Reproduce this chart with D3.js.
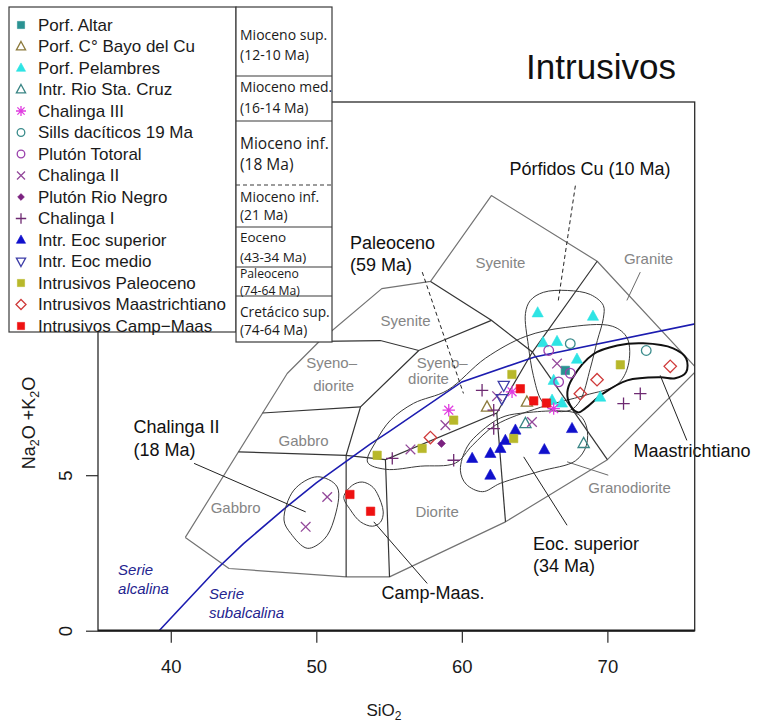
<!DOCTYPE html>
<html>
<head>
<meta charset="utf-8">
<script src="https://cdn.jsdelivr.net/npm/d3@7"></script>
<style>
  body { margin: 0; background: #fff; }
  svg { display: block; }
</style>
</head>
<body>
<svg id="chart" width="758" height="726"></svg>
<script>
// ---------- Data (SiO2 wt%, Na2O+K2O wt%) ----------
const porfAltar       = [[67.11, 8.37]];
const porfBayoCu      = [[61.73, 7.19], [64.47, 7.35]];
const porfPelambres   = [[65.21, 10.22], [69.01, 10.11], [65.58, 9.26], [66.54, 9.30], [67.91, 8.73],
                         [66.31, 8.05], [69.51, 7.51], [66.20, 7.41], [66.88, 7.32]];
const rioStaCruz      = [[64.37, 6.66], [68.37, 6.02]];
const chalingaIII     = [[59.10, 7.09], [63.45, 7.68], [66.31, 7.14]];
const sillsDaciticos  = [[67.45, 9.23], [72.67, 9.01]];
const plutonTotoral   = [[65.97, 9.01], [67.45, 8.28], [66.65, 8.00]];
const chalingaII      = [[50.75, 4.30], [49.27, 3.34], [56.47, 5.83], [58.87, 6.61], [62.42, 7.54],
                         [66.54, 8.59], [64.82, 6.71]];
const plutonRioNegro  = [[58.60, 6.02]];
const chalingaI       = [[55.22, 5.54], [59.44, 5.48], [61.39, 7.73], [62.19, 7.09], [62.19, 6.50],
                         [71.11, 7.30], [72.26, 7.62]];
const eocSuperior     = [[60.71, 5.54], [61.96, 5.70], [61.96, 5.00], [62.65, 5.86], [62.99, 6.12],
                         [63.68, 6.45], [65.67, 5.82], [67.57, 6.50]];
const eocMedio        = [[62.88, 7.89], [62.75, 7.46]];
const paleoceno       = [[54.18, 5.64], [57.27, 5.86], [59.44, 6.77], [63.44, 8.24], [63.56, 6.18], [70.89, 8.55]];
const maastrichtiano  = [[57.84, 6.21], [68.14, 7.62], [69.29, 8.07], [74.32, 8.50]];
const campMaas        = [[52.31, 4.38], [53.73, 3.84], [64.02, 7.78], [64.94, 7.39], [65.81, 7.32]];

// Alkaline / subalkaline divide (Irvine & Baragar, 1971)
const divideSiO2 = [39.2, 40, 43.2, 45, 48, 50, 53.7, 55, 60, 65, 77.4];
const divideAlk  = [0, 0.4, 2, 2.8, 4, 4.75, 6, 6.4, 8, 8.8, 10];

// Plutonic TAS field boundaries
const tasOuter = [[41, 3], [44, 2], [52.05, 1.73], [55.03, 1.73], [63, 3.5], [70, 5.5], [76.2, 8.4],
                  [69.3, 11.88], [62.03, 13.99], [57.85, 11.23], [54.5, 11.0], [50.2, 9.3], [48, 8.27], [41, 3]];
const tasInner = [
  [[44.65, 5.75], [52.05, 5.64], [54.75, 5.5]],
  [[52.05, 1.73], [52.05, 5.64], [53.04, 7.2], [57.04, 9.01]],
  [[55.03, 1.73], [54.75, 5.5], [62.4, 7.0], [64.85, 8.96]],
  [[46.31, 7.0], [53.04, 7.2]],
  [[50.2, 9.3], [54.4, 9.33], [57.04, 9.01], [62.03, 9.98]],
  [[57.85, 11.23], [62.03, 9.98], [64.85, 8.96], [69.3, 11.88]],
  [[63, 3.5], [62.4, 7.0]],
  [[64.85, 8.96], [70, 5.5]]
];
const fieldNames = [
  {t: 'Gabbro', p: [49.13, 6.12]}, {t: 'Gabbro', p: [44.46, 3.94]},
  {t: 'Syeno\u2013', p: [51.05, 8.60]}, {t: 'diorite', p: [51.19, 7.89]},
  {t: 'Syeno\u2013', p: [58.65, 8.60]}, {t: 'diorite', p: [57.71, 8.11]},
  {t: 'Syenite', p: [56.13, 9.98]}, {t: 'Syenite', p: [62.65, 11.84]},
  {t: 'Diorite', p: [58.30, 3.81]}, {t: 'Granodiorite', p: [71.52, 4.61]},
  {t: 'Granite', p: [72.83, 11.97]}
];
const fieldLeaders = [
  [[72.26, 11.53], [71.34, 10.62]],
  [[67.23, 5.43], [70.06, 5.00]]
];

// Group outlines
const enclChalingaII = [[47.78, 3.56], [48.46, 4.52], [50.07, 4.95], [51.44, 4.62], [51.21, 3.56],
                        [50.52, 2.93], [49.38, 2.65], [48.24, 3.13]];
const enclCampMaas = [[51.89, 4.30], [52.49, 4.68], [53.16, 4.78], [53.80, 4.65], [54.19, 4.41], [54.60, 3.82],
                      [54.41, 3.49], [53.86, 3.36], [53.04, 3.50], [52.35, 3.88]];
const enclEocSup = [[59.90, 5.16], [60.36, 5.91], [61.30, 6.40], [62.65, 6.84], [64.02, 6.99], [67.91, 6.98],
                    [68.55, 6.59], [68.55, 5.95], [67.80, 5.46], [65.39, 5.13], [62.65, 4.74], [61.42, 4.47], [60.30, 4.71]];
const enclPorfidos = [[64.37, 10.20], [64.71, 10.62], [65.60, 10.88], [67.25, 10.94], [68.83, 10.81], [69.72, 10.46],
                      [69.72, 10.04], [69.31, 9.33], [68.83, 8.44], [68.14, 7.41], [67.45, 7.09], [66.22, 7.09],
                      [65.46, 7.41], [64.91, 8.21], [64.57, 9.17]];
const enclPaleoceno = [[53.52, 5.42], [54.76, 5.19], [57.16, 5.29], [59.56, 5.39], [60.73, 5.96], [62.31, 6.61],
                       [65.39, 7.18], [68.48, 7.57], [70.68, 7.92], [71.43, 8.53], [71.37, 9.40], [70.34, 9.79],
                       [67.11, 9.75], [64.37, 9.46], [61.62, 8.76], [59.01, 7.73], [56.68, 7.31], [55.10, 6.77], [54.14, 6.12]];
const enclMaastr = [[67.59, 8.11], [69.03, 8.89], [70.68, 9.17], [72.46, 9.24], [74.52, 9.08], [75.41, 8.76],
                    [75.41, 8.31], [74.66, 8.12], [73.63, 8.15], [71.37, 8.05], [69.72, 7.63], [68.48, 7.15],
                    [68.0, 7.02], [67.45, 7.25], [67.25, 7.67]];

// Annotations
const groupLabels = [
  {lines: ['P\u00f3rfidos Cu (10 Ma)'], p: [63.27, 14.85]},
  {lines: ['Paleoceno', '(59 Ma)'], p: [52.31, 12.49]},
  {lines: ['Chalinga II', '(18 Ma)'], p: [37.44, 6.55]},
  {lines: ['Camp-Maas.'], p: [54.48, 1.21]},
  {lines: ['Eoc. superior', '(34 Ma)'], p: [64.89, 2.81]},
  {lines: ['Maastrichtiano'], p: [71.80, 5.80]}
];
const solidLeaders = [
  [[41.60, 5.38], [49.27, 3.82]],
  [[53.95, 3.50], [57.62, 1.52]],
  [[64.25, 5.59], [67.23, 3.39]],
  [[73.63, 8.21], [75.46, 6.12]]
];
const dashedLeaders = [
  [[57.28, 11.53], [60.11, 7.63]],
  [[67.80, 14.31], [66.63, 10.62]]
];
const seriesLabels = [
  {lines: ['Serie', 'alcalina'], p: [36.38, 1.95]},
  {lines: ['Serie', 'subalcalina'], p: [42.63, 1.18]}
];

const xTicks = [40, 50, 60, 70];
const yTicks = [0, 5, 10, 15];

const periodLabels = [
  ['Mioceno sup.', '(12-10 Ma)'],
  ['Mioceno med.', '(16-14 Ma)'],
  ['Mioceno inf.', '(18 Ma)'],
  ['Mioceno inf.', '(21 Ma)'],
  ['Eoceno', '(43-34 Ma)'],
  ['Paleoceno', '(74-64 Ma)'],
  ['Cret\u00e1cico sup.', '(74-64 Ma)']
];

// Series: marker, colour, fill
const series = [
  {name: 'Porf. Altar', data: porfAltar, shape: 'square', color: '#2a9292', filled: true},
  {name: 'Porf. C\u00b0 Bayo del Cu', data: porfBayoCu, shape: 'triUp', color: '#8c7a3c', filled: false},
  {name: 'Porf. Pelambres', data: porfPelambres, shape: 'triUp', color: '#2ee4e4', filled: true},
  {name: 'Intr. Rio Sta. Cruz', data: rioStaCruz, shape: 'triUp', color: '#3a8585', filled: false},
  {name: 'Chalinga III', data: chalingaIII, shape: 'asterisk', color: '#e03ce0', filled: false},
  {name: 'Sills dac\u00edticos 19 Ma', data: sillsDaciticos, shape: 'circle', color: '#3b8c8c', filled: false},
  {name: 'Plut\u00f3n Totoral', data: plutonTotoral, shape: 'circle', color: '#9a40ac', filled: false},
  {name: 'Chalinga II', data: chalingaII, shape: 'cross', color: '#93489a', filled: false},
  {name: 'Plut\u00f3n Rio Negro', data: plutonRioNegro, shape: 'smallDiamond', color: '#7b2280', filled: true},
  {name: 'Chalinga I', data: chalingaI, shape: 'plus', color: '#6e2a72', filled: false},
  {name: 'Intr. Eoc superior', data: eocSuperior, shape: 'triUp', color: '#1010cc', filled: true},
  {name: 'Intr. Eoc medio', data: eocMedio, shape: 'triDown', color: '#3d3da8', filled: false},
  {name: 'Intrusivos Paleoceno', data: paleoceno, shape: 'square', color: '#b8b82a', filled: true},
  {name: 'Intrusivos Maastrichtiano', data: maastrichtiano, shape: 'diamond', color: '#cf3a3a', filled: false},
  {name: 'Intrusivos Camp\u2212Maas', data: campMaas, shape: 'square', color: '#ee1111', filled: true}
];

// ---------- Drawing ----------
const FONT = '"Liberation Sans", Arial, Helvetica, sans-serif';
const svg = d3.select('#chart');
const W = 758, H = 726;
svg.append('rect').attr('width', W).attr('height', H).attr('fill', '#fff');

const plot = {left: 98, right: 694.7, top: 102, bottom: 630.7};
const x = d3.scaleLinear().domain([35, 76]).range([plot.left, plot.right]);
const y = d3.scaleLinear().domain([0, 17]).range([plot.bottom, plot.top]);

svg.append('defs').append('clipPath').attr('id', 'plotClip')
  .append('rect').attr('x', plot.left).attr('y', plot.top)
  .attr('width', plot.right - plot.left).attr('height', plot.bottom - plot.top);

const line = d3.line().x(d => x(d[0])).y(d => y(d[1]));
const closed = d3.line().x(d => x(d[0])).y(d => y(d[1])).curve(d3.curveCatmullRomClosed.alpha(0.5));

const g = svg.append('g').attr('clip-path', 'url(#plotClip)');

// TAS fields
g.append('path').attr('d', line(tasOuter)).attr('fill', 'none')
  .attr('stroke', '#737373').attr('stroke-width', 1.2).attr('stroke-linejoin', 'round');
g.selectAll('path.inner').data(tasInner).join('path').attr('class', 'inner')
  .attr('d', line).attr('fill', 'none').attr('stroke', '#353535').attr('stroke-width', 1.2);
g.selectAll('path.fleader').data(fieldLeaders).join('path').attr('class', 'fleader')
  .attr('d', line).attr('stroke', '#6a6a6a').attr('stroke-width', 1);

// alkaline / subalkaline divide
g.append('path').attr('d', line(divideSiO2.map((s, i) => [s, divideAlk[i]])))
  .attr('fill', 'none').attr('stroke', '#1c1cb0').attr('stroke-width', 1.6);

// group outlines
[enclChalingaII, enclCampMaas, enclEocSup, enclPorfidos, enclPaleoceno].forEach(e => {
  g.append('path').attr('d', closed(e)).attr('fill', 'none').attr('stroke', '#3a3a3a').attr('stroke-width', 1);
});
g.append('path').attr('d', closed(enclMaastr)).attr('fill', 'none').attr('stroke', '#111').attr('stroke-width', 2);

// leaders
svg.selectAll('path.sleader').data(solidLeaders).join('path').attr('class', 'sleader')
  .attr('d', line).attr('stroke', '#222').attr('stroke-width', 1);
svg.selectAll('path.dleader').data(dashedLeaders).join('path').attr('class', 'dleader')
  .attr('d', line).attr('stroke', '#222').attr('stroke-width', 1).attr('stroke-dasharray', '4,3');

// field names
g.selectAll('text.field').data(fieldNames).join('text').attr('class', 'field')
  .attr('x', d => x(d.p[0])).attr('y', d => y(d.p[1])).attr('dy', '0.35em')
  .attr('text-anchor', 'middle').attr('font-family', FONT).attr('font-size', 15)
  .attr('fill', '#858585').text(d => d.t);

// series labels for the divide
seriesLabels.forEach(l => {
  const t = svg.append('text').attr('font-family', FONT).attr('font-size', 15)
    .attr('font-style', 'italic').attr('fill', '#24248f');
  l.lines.forEach((s, i) => t.append('tspan').attr('x', x(l.p[0]))
    .attr('y', y(l.p[1]) + i * 19).attr('dy', '0.35em').text(s));
});

// group labels
groupLabels.forEach(l => {
  const t = svg.append('text').attr('font-family', FONT).attr('font-size', 18).attr('fill', '#111');
  l.lines.forEach((s, i) => t.append('tspan').attr('x', x(l.p[0]))
    .attr('y', y(l.p[1]) + i * 22.5).attr('dy', '0.35em').text(s));
});

// markers
function symbolPath(shape, r) {
  const k = r * 0.72;
  switch (shape) {
    case 'square': return `M${-r},${-r}H${r}V${r}H${-r}Z`;
    case 'triUp': return `M0,${-r * 1.1}L${r},${r * 0.72}L${-r},${r * 0.72}Z`;
    case 'triDown': return `M0,${r * 1.1}L${r},${-r * 0.72}L${-r},${-r * 0.72}Z`;
    case 'diamond':
    case 'smallDiamond': return `M0,${-r}L${r},0L0,${r}L${-r},0Z`;
    case 'circle': return `M${r},0A${r},${r} 0 1,1 ${-r},0A${r},${r} 0 1,1 ${r},0Z`;
    case 'plus': return `M${-r},0H${r}M0,${-r}V${r}`;
    case 'cross': return `M${-r},${-r}L${r},${r}M${-r},${r}L${r},${-r}`;
    case 'asterisk': return `M${-r},0H${r}M0,${-r}V${r}M${-k},${-k}L${k},${k}M${-k},${k}L${k},${-k}`;
  }
}
const plotSize = {square: 4.2, triUp: 5.6, triDown: 5.6, diamond: 6.2, smallDiamond: 4, circle: 4.8,
                  plus: 6.2, cross: 4.8, asterisk: 6.2};
const legendSize = {square: 3.6, triUp: 4.6, triDown: 4.6, diamond: 5, smallDiamond: 3.4, circle: 3.8,
                    plus: 5.2, cross: 4, asterisk: 5};

function styleMarker(sel, sr) {
  sel.attr('fill', sr.filled ? sr.color : 'none')
    .attr('stroke', sr.color)
    .attr('stroke-width', sr.filled ? 0.6 : 1.3);
}

const pts = svg.append('g');
series.forEach(sr => {
  pts.append('g').selectAll('path').data(sr.data).join('path')
    .attr('transform', d => `translate(${x(d[0])},${y(d[1])})`)
    .attr('d', symbolPath(sr.shape, plotSize[sr.shape]))
    .call(styleMarker, sr);
});

// frame and axes
svg.append('rect').attr('x', plot.left).attr('y', plot.top)
  .attr('width', plot.right - plot.left).attr('height', plot.bottom - plot.top)
  .attr('fill', 'none').attr('stroke', '#2a2a2a').attr('stroke-width', 1.3);
svg.append('line').attr('x1', plot.left).attr('x2', plot.right).attr('y1', plot.bottom).attr('y2', plot.bottom)
  .attr('stroke', '#1a1a1a').attr('stroke-width', 2.2);

const xAxis = svg.append('g').attr('transform', `translate(0,${plot.bottom})`)
  .call(d3.axisBottom(x).tickValues(xTicks).tickSize(12).tickPadding(17).tickFormat(d3.format('d')));
xAxis.select('.domain').remove();
xAxis.selectAll('line').attr('stroke', '#2a2a2a').attr('stroke-width', 1.2);
xAxis.selectAll('text').attr('font-family', FONT).attr('font-size', 18.5).attr('fill', '#1a1a1a');

const yAxis = svg.append('g').attr('transform', `translate(${plot.left},0)`)
  .call(d3.axisLeft(y).tickValues(yTicks).tickSize(12).tickFormat(d3.format('d')));
yAxis.select('.domain').remove();
yAxis.selectAll('line').attr('stroke', '#2a2a2a').attr('stroke-width', 1.2);
yAxis.selectAll('text').attr('x', 0).attr('dy', 0).attr('text-anchor', 'middle')
  .attr('transform', 'translate(-26,0) rotate(-90)')
  .attr('font-family', FONT).attr('font-size', 18.5).attr('fill', '#1a1a1a');

// axis titles
const xt = svg.append('text').attr('x', 384).attr('y', 716).attr('text-anchor', 'middle')
  .attr('font-family', FONT).attr('font-size', 17).attr('fill', '#1a1a1a');
xt.append('tspan').text('SiO');
xt.append('tspan').attr('font-size', 12).attr('dy', 4).text('2');

const yt = svg.append('text').attr('transform', 'translate(35,423) rotate(-90)').attr('text-anchor', 'middle')
  .attr('font-family', FONT).attr('font-size', 18).attr('fill', '#1a1a1a');
yt.append('tspan').text('Na');
yt.append('tspan').attr('font-size', 12.5).attr('dy', 4).text('2');
yt.append('tspan').attr('dy', -4).text('O +K');
yt.append('tspan').attr('font-size', 12.5).attr('dy', 4).text('2');
yt.append('tspan').attr('dy', -4).text('O');

// title
svg.append('text').attr('x', 601).attr('y', 79).attr('text-anchor', 'middle')
  .attr('font-family', FONT).attr('font-size', 35).attr('fill', '#111').text('Intrusivos');

// ---------- Legend ----------
const leg = svg.append('g');
leg.append('rect').attr('x', 9).attr('y', 7).attr('width', 227).attr('height', 325)
  .attr('fill', '#fff').attr('stroke', '#3a3a3a').attr('stroke-width', 1.2);
series.forEach((sr, i) => {
  const cy = 25 + i * 21.5;
  leg.append('path').attr('transform', `translate(21,${cy})`)
    .attr('d', symbolPath(sr.shape, legendSize[sr.shape])).call(styleMarker, sr);
  leg.append('text').attr('x', 38).attr('y', cy).attr('dy', '0.35em')
    .attr('font-family', FONT).attr('font-size', 17).attr('fill', '#1a1a1a').text(sr.name);
});

// period table
const TFONT = '"Open Sans", "Noto Sans", sans-serif';
const rowEdges = [7, 76, 121, 185, 227, 267, 296, 342];
const rowText = [[35, 55, 14], [87, 108, 13.9], [144, 165, 15.5], [197, 215, 13.8], [237, 257, 13.5],
                 [274, 291, 12.2], [312, 330, 13.7]];
leg.append('rect').attr('x', 236).attr('y', 7).attr('width', 96).attr('height', 335)
  .attr('fill', '#fff').attr('stroke', '#3a3a3a').attr('stroke-width', 1.2);
rowEdges.slice(1, -1).forEach((ry, i) => {
  leg.append('line').attr('x1', 236).attr('x2', 332).attr('y1', ry).attr('y2', ry)
    .attr('stroke', '#3a3a3a').attr('stroke-width', 1.2)
    .attr('stroke-dasharray', i === 2 ? '4,3' : null);
});
periodLabels.forEach((lab, i) => {
  const [y1, y2, fs] = rowText[i];
  [y1, y2].forEach((ty, j) => {
    leg.append('text').attr('x', 240).attr('y', ty).attr('dy', '0.35em')
      .attr('font-family', TFONT).attr('font-size', fs).attr('fill', '#1a1a1a').text(lab[j]);
  });
});
</script>
</body>
</html>
